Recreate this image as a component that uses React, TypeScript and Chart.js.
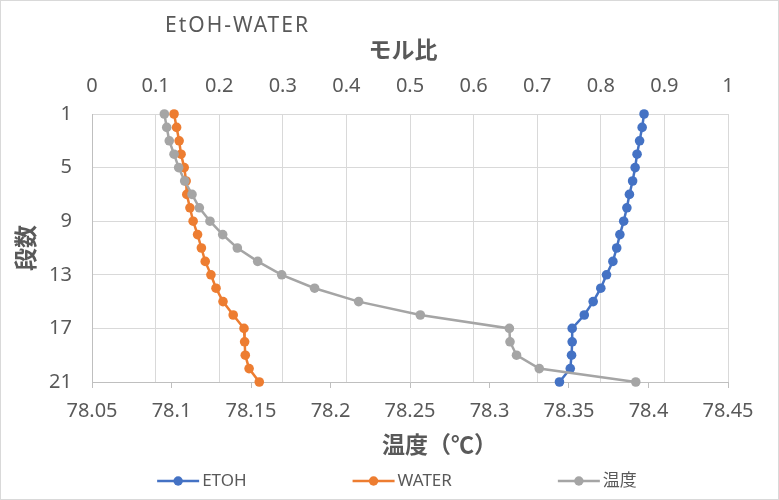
import React, { useEffect, useRef } from "react";
import { Chart, registerables } from "chart.js";

Chart.register(...registerables);

const chartTitle = "EtOH-WATER";
const topAxisTitle = "モル比";
const bottomAxisTitle = "温度（℃）";
const leftAxisTitle = "段数";

const stages = [1, 2, 3, 4, 5, 6, 7, 8, 9, 10, 11, 12, 13, 14, 15, 16, 17, 18, 19, 20, 21];
const etoh = [0.868, 0.865, 0.861, 0.857, 0.854, 0.85, 0.845, 0.841, 0.836, 0.83, 0.825, 0.819, 0.809, 0.8, 0.788, 0.774, 0.755, 0.755, 0.754, 0.752, 0.735];
const water = [0.129, 0.133, 0.137, 0.14, 0.145, 0.148, 0.149, 0.154, 0.159, 0.166, 0.172, 0.178, 0.187, 0.195, 0.206, 0.222, 0.239, 0.24, 0.241, 0.247, 0.263];
const temperature = [78.0955, 78.097, 78.0986, 78.1016, 78.1045, 78.1083, 78.1129, 78.1175, 78.1242, 78.1322, 78.1414, 78.1542, 78.1693, 78.19, 78.2177, 78.2565, 78.3125, 78.3129, 78.317, 78.3313, 78.392];

const molTicks = [0, 0.1, 0.2, 0.3, 0.4, 0.5, 0.6, 0.7, 0.8, 0.9, 1];
const tempTicks = [78.05, 78.1, 78.15, 78.2, 78.25, 78.3, 78.35, 78.4, 78.45];
const stageTicks = [1, 5, 9, 13, 17, 21];

const seriesNames = ["ETOH", "WATER", "温度"];
const seriesColors = ["#4472C4", "#ED7D31", "#A5A5A5"];

const LATIN = '"Noto Sans", "Noto Sans CJK JP", sans-serif';
const CJK = '"Noto Sans CJK JP", "Noto Sans", sans-serif';
const TEXT = "#595959";

const overlay = {
  id: "overlay",
  beforeDraw(chart: any) {
    const ctx = chart.ctx;
    ctx.save();
    ctx.fillStyle = "#ffffff";
    ctx.fillRect(0, 0, chart.width, chart.height);
    ctx.strokeStyle = "#d9d9d9";
    ctx.lineWidth = 1;
    ctx.strokeRect(0.5, 0.5, chart.width - 1, chart.height - 1);
    ctx.restore();
  },
  afterDraw(chart: any) {
    const ctx = chart.ctx;
    const area = chart.chartArea;
    ctx.save();
    ctx.fillStyle = TEXT;
    ctx.textBaseline = "middle";

    // chart title
    ctx.font = `21px ${LATIN}`;
    ctx.textAlign = "left";
    (ctx as any).letterSpacing = "2px";
    ctx.fillText(chartTitle, 165, 26);
    (ctx as any).letterSpacing = "0px";

    // axis titles
    ctx.font = `bold 23px ${CJK}`;
    ctx.textAlign = "center";
    ctx.fillText(topAxisTitle, 403, 49);
    ctx.textAlign = "left";
    ctx.fillText(bottomAxisTitle, 382, 444);
    ctx.save();
    ctx.translate(25, (area.top + area.bottom) / 2);
    ctx.rotate(-Math.PI / 2);
    ctx.textAlign = "center";
    ctx.fillText(leftAxisTitle, 0, 0);
    ctx.restore();

    // legend
    ctx.font = `17px ${LATIN}`;
    ctx.textAlign = "left";
    const lineW = 42;
    const gap = 3;
    const itemGap = 106;
    const items = chart.data.datasets.map((ds: any) => ({
      label: ds.label,
      color: ds.borderColor,
      w: ctx.measureText(ds.label).width,
    }));
    const total = items.reduce((s: number, it: any) => s + lineW + gap + it.w, 0) + itemGap * (items.length - 1);
    let x = 397 - total / 2;
    const y = 481;
    for (const it of items) {
      ctx.strokeStyle = it.color;
      ctx.lineWidth = 2.5;
      ctx.beginPath();
      ctx.moveTo(x, y);
      ctx.lineTo(x + lineW, y);
      ctx.stroke();
      ctx.fillStyle = it.color;
      ctx.beginPath();
      ctx.arc(x + lineW / 2, y, 4.7, 0, Math.PI * 2);
      ctx.fill();
      ctx.fillStyle = TEXT;
      ctx.fillText(it.label, x + lineW + gap, y);
      x += lineW + gap + it.w + itemGap;
    }
    ctx.restore();
  },
};

export default function App() {
  const ref = useRef<HTMLCanvasElement | null>(null);

  useEffect(() => {
    if (!ref.current) return;
    const mk = (vals: number[]) => vals.map((v, i) => ({ x: v, y: stages[i] }));
    const ds = (i: number, data: any[], axis: string, order: number) => ({
      label: seriesNames[i],
      data,
      xAxisID: axis,
      yAxisID: "y",
      showLine: true,
      clip: false,
      borderColor: seriesColors[i],
      backgroundColor: seriesColors[i],
      borderWidth: 2.5,
      pointRadius: 4.8,
      pointBorderWidth: 0,
      pointHoverRadius: 4.8,
      order,
    });
    const chart = new Chart(ref.current, {
      type: "scatter",
      data: {
        datasets: [
          ds(0, mk(etoh), "x", 3),
          ds(1, mk(water), "x", 2),
          ds(2, mk(temperature), "x2", 1),
        ],
      },
      options: {
        responsive: false,
        animation: false,
        devicePixelRatio: 1,
        layout: { padding: { left: 0, right: 51, top: 0, bottom: 0 } },
        plugins: {
          legend: { display: false },
          title: { display: false },
          tooltip: { enabled: false },
        },
        scales: {
          x: {
            type: "linear",
            position: "top",
            min: 0,
            max: 1,
            afterBuildTicks: (s: any) => {
              s.ticks = molTicks.map((v) => ({ value: v }));
            },
            afterFit: (s: any) => {
              s.height = 114;
            },
            ticks: {
              color: TEXT,
              font: { family: LATIN, size: 20 },
              padding: 16,
              maxRotation: 0,
              autoSkip: false,
              callback: (v: any) => String(+Number(v).toFixed(1)),
            },
            grid: { color: "#d9d9d9", lineWidth: 1, drawTicks: false },
            border: { display: false },
          },
          x2: {
            type: "linear",
            position: "bottom",
            min: 78.05,
            max: 78.45,
            afterBuildTicks: (s: any) => {
              s.ticks = tempTicks.map((v) => ({ value: v }));
            },
            afterFit: (s: any) => {
              s.height = 118;
            },
            ticks: {
              color: TEXT,
              font: { family: LATIN, size: 20 },
              padding: 11,
              maxRotation: 0,
              autoSkip: false,
              callback: (v: any) => String(+Number(v).toFixed(2)),
            },
            grid: { drawOnChartArea: false, color: "#bfbfbf", tickLength: 6, drawTicks: true },
            border: { color: "#bfbfbf", width: 1 },
          },
          y: {
            type: "linear",
            position: "left",
            reverse: true,
            min: 1,
            max: 21,
            afterBuildTicks: (s: any) => {
              s.ticks = stageTicks.map((v) => ({ value: v }));
            },
            afterFit: (s: any) => {
              s.width = 92;
            },
            ticks: {
              color: TEXT,
              font: { family: LATIN, size: 20 },
              padding: 20,
              autoSkip: false,
              callback: (v: any) => String(v),
            },
            grid: { color: "#d9d9d9", lineWidth: 1, drawTicks: false },
            border: { color: "#bfbfbf", width: 1 },
          },
        },
      },
      plugins: [overlay],
    } as any);
    return () => chart.destroy();
  }, []);

  return (
    <div style={{ position: "absolute", left: 0, top: 0, width: 779, height: 500 }}>
      <canvas ref={ref} width={779} height={500} style={{ display: "block" }} />
    </div>
  );
}
